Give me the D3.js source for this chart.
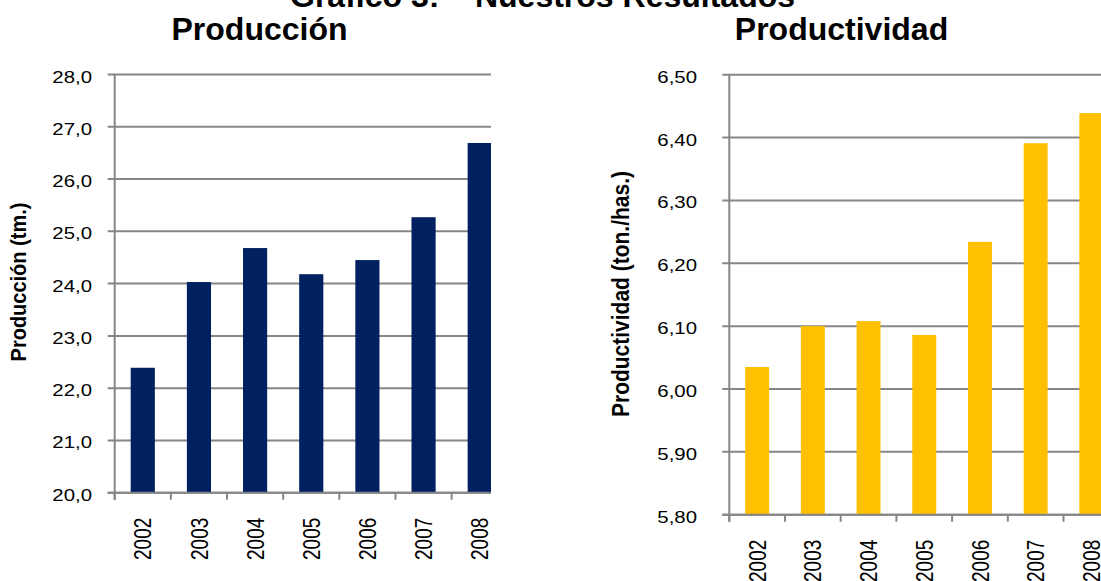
<!DOCTYPE html>
<html>
<head>
<meta charset="utf-8">
<script src="https://cdn.jsdelivr.net/npm/d3@7"></script>
<style>
  html, body { margin: 0; padding: 0; background: #fff; }
  svg { display: block; }
  text { font-family: "Liberation Sans", Arial, sans-serif; fill: #000; }
</style>
</head>
<body>
<svg id="chart" width="1101" height="581"></svg>
<script>
// ---- Data ----
const years = ["2002", "2003", "2004", "2005", "2006", "2007", "2008"];
const produccion = [22.39, 24.03, 24.68, 24.18, 24.45, 25.27, 26.69];
const productividad = [6.035, 6.100, 6.108, 6.086, 6.234, 6.391, 6.439];
const produccionTicks = [20, 21, 22, 23, 24, 25, 26, 27, 28];
const productividadTicks = [5.8, 5.9, 6.0, 6.1, 6.2, 6.3, 6.4, 6.5];
const mainTitle = "Gráfico 3: – Nuestros Resultados";
const titles = ["Producción", "Productividad"];
const axisTitles = ["Producción (tm.)", "Productividad (ton./has.)"];

const locale = d3.formatLocale({decimal: ",", thousands: ".", grouping: [3], currency: ["", "€"]});
const fmt1 = locale.format(".1f");
const fmt2 = locale.format(".2f");

const svg = d3.select("#chart");
const GRID = "#868686";

svg.append("defs").append("clipPath").attr("id", "clipLeft")
  .append("rect").attr("x", 0).attr("y", 0).attr("width", 491).attr("height", 581);

// top (cut) title
svg.append("text").attr("x", 542.5).attr("y", 7).attr("text-anchor", "middle")
  .style("font-size", "32px").style("font-weight", "bold").text(mainTitle);

function drawChart(g, cfg) {
  const x = d3.scaleBand().domain(years).range(cfg.xRange).paddingInner(0.57).paddingOuter(0.285);
  const y = d3.scaleLinear().domain(cfg.yDomain).range(cfg.yRange);
  const x0 = cfg.xRange[0];
  const y0 = y(cfg.yDomain[0]);
  const off = (x.step() - x.bandwidth()) / 2;

  // gridlines
  g.selectAll(".grid").data(cfg.ticks).join("line")
    .attr("x1", x0 - 7).attr("x2", cfg.xRange[1] + 20)
    .attr("y1", d => y(d)).attr("y2", d => y(d))
    .attr("stroke", GRID).attr("stroke-width", 2);

  // bars
  g.selectAll(".bar").data(cfg.values).join("rect")
    .attr("x", (d, i) => x(years[i])).attr("width", x.bandwidth())
    .attr("y", d => y(d)).attr("height", d => y0 - y(d))
    .attr("fill", cfg.color);

  // y axis line
  g.append("line").attr("x1", x0).attr("x2", x0)
    .attr("y1", y(cfg.yDomain[1])).attr("y2", y0 + 7)
    .attr("stroke", GRID).attr("stroke-width", 2);
  // x axis line
  g.append("line").attr("x1", x0 - 7).attr("x2", cfg.xRange[1] + 20)
    .attr("y1", y0).attr("y2", y0)
    .attr("stroke", GRID).attr("stroke-width", 2);
  // x ticks at category boundaries
  g.selectAll(".xt").data(years).join("line")
    .attr("x1", d => x(d) - off).attr("x2", d => x(d) - off)
    .attr("y1", y0).attr("y2", y0 + 7)
    .attr("stroke", GRID).attr("stroke-width", 2);

  // y labels
  g.selectAll(".yl").data(cfg.ticks).join("text")
    .attr("transform", d => `translate(${cfg.labelX},${y(d) + 8}) scale(1.2,1)`)
    .attr("text-anchor", "end").style("font-size", "17px")
    .text(d => cfg.fmt(d));

  // x labels
  g.selectAll(".xl").data(years).join("text")
    .attr("transform", d => `translate(${x(d) + x.bandwidth() / 2},${y0 + 25}) scale(1.26,1) rotate(-90)`)
    .attr("text-anchor", "end").attr("dy", "0.36em").style("font-size", "19px")
    .text(d => d);

  // chart title
  g.append("text").attr("x", cfg.titleX).attr("y", 40).attr("text-anchor", "middle")
    .style("font-size", "32px").style("font-weight", "bold").text(cfg.title);

  // axis title
  g.append("text")
    .attr("transform", `translate(${cfg.axisTitleX},${cfg.axisTitleY}) scale(1.1,1) rotate(-90)`)
    .attr("text-anchor", "middle").style("font-size", cfg.axisTitleSize + "px").style("font-weight", "bold")
    .text(cfg.axisTitle);
}

const left = svg.append("g").attr("clip-path", "url(#clipLeft)");
drawChart(left, {
  xRange: [114.7, 507.8], yDomain: [20, 28], yRange: [492.7, 74.5],
  values: produccion, ticks: produccionTicks, fmt: fmt1, color: "#002060",
  labelX: 92, titleX: 259.5, title: titles[0],
  axisTitle: axisTitles[0], axisTitleX: 26, axisTitleY: 282, axisTitleSize: 20
});

const right = svg.append("g");
drawChart(right, {
  xRange: [729.3, 1119.2], yDomain: [5.8, 6.5], yRange: [514.7, 74.7],
  values: productividad, ticks: productividadTicks, fmt: fmt2, color: "#FFC000",
  labelX: 697, titleX: 841.5, title: titles[1],
  axisTitle: axisTitles[1], axisTitleX: 629, axisTitleY: 294, axisTitleSize: 21
});
</script>
</body>
</html>
